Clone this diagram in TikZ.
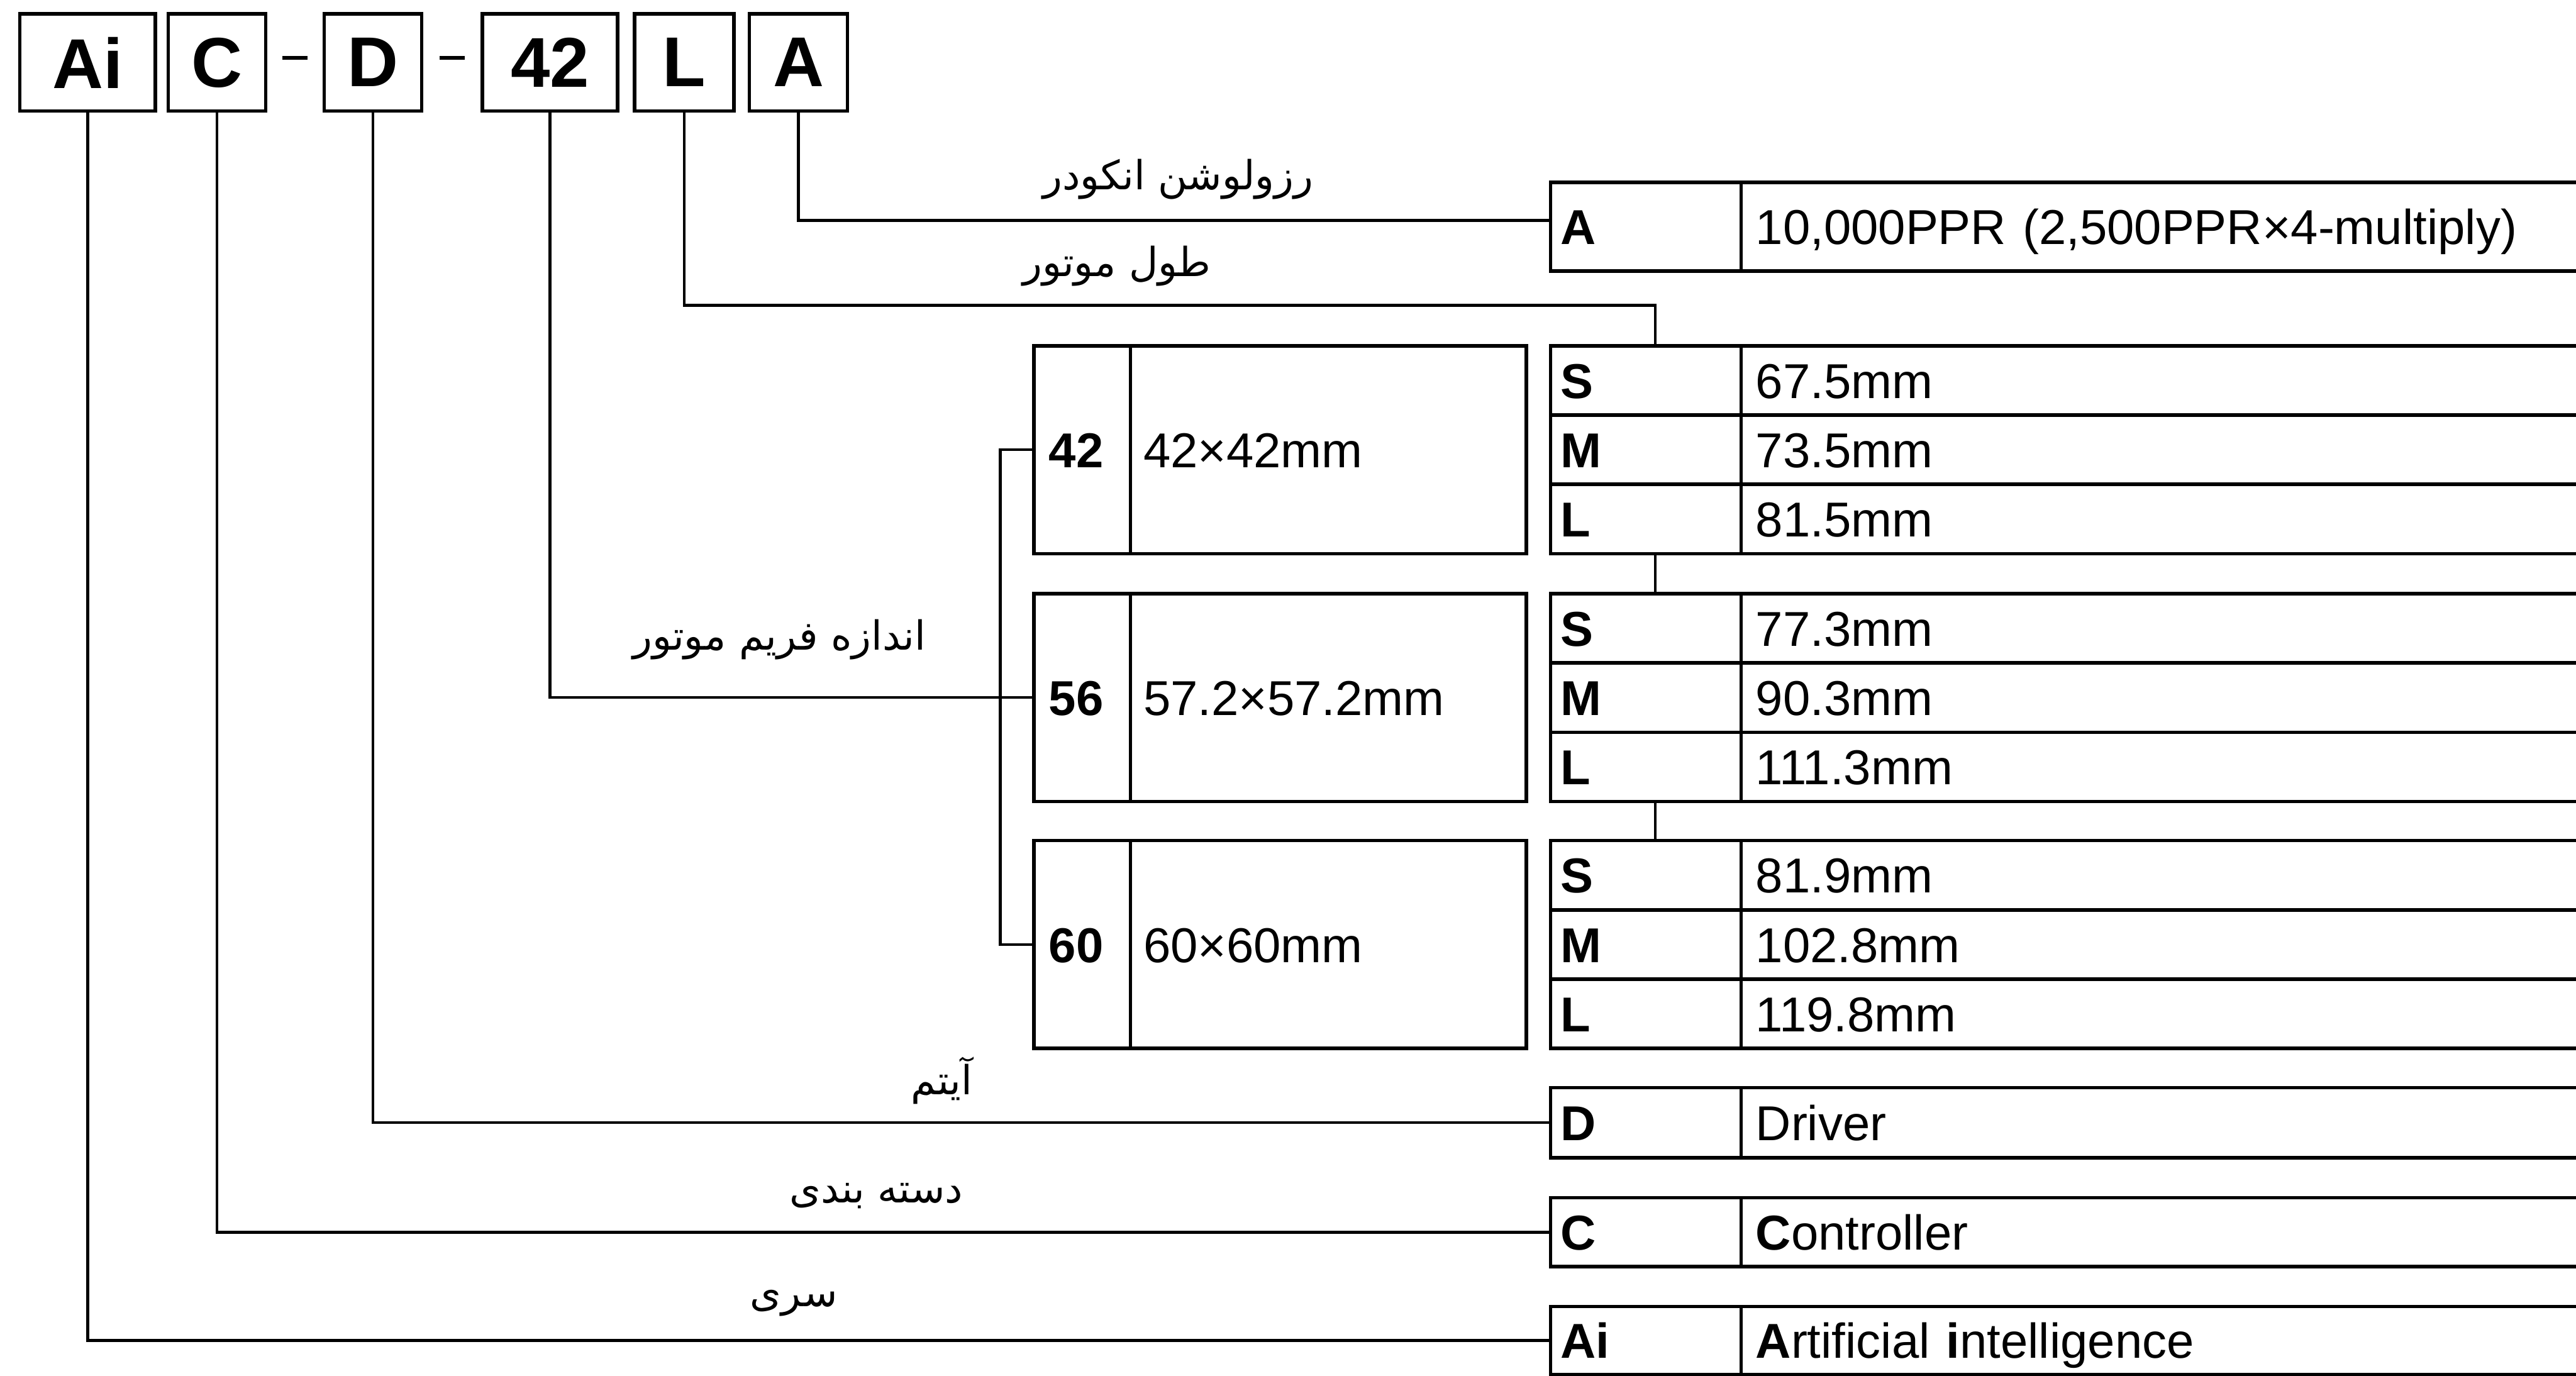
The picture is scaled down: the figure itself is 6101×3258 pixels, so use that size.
\documentclass[tikz,border=0pt]{standalone}
\usepackage{fontspec}
\setmainfont{Liberation Sans}
\newfontfamily\persianfont[Script=Arabic]{DejaVu Sans}
\TeXXeTstate=1
\usetikzlibrary{positioning, calc}
\newcommand{\tablefont}{\fontsize{33}{40}\selectfont}
\newcommand{\fatxt}[1]{\beginR #1\endR}
\tikzset{
  codebox/.style={rectangle, draw, line width=2.3pt, minimum height=2.3cm,
                  inner sep=0pt, outer sep=0pt,
                  font=\bfseries\fontsize{47.5}{56}\selectfont},
  keycell/.style={rectangle, draw, line width=2.3pt, inner xsep=0.24cm,
                  inner ysep=0pt, outer sep=0pt, text width=4.03cm,
                  minimum height=1.64cm, align=left, text height=0.84cm,
                  text depth=0pt, font=\tablefont\bfseries},
  valcell/.style={keycell, text width=19.7cm, inner xsep=0.35cm, font=\tablefont},
  framekey/.style={keycell, text width=1.58cm, inner xsep=0.35cm, minimum height=4.92cm},
  framedesc/.style={valcell, text width=8.75cm, inner xsep=0.31cm, minimum height=4.92cm},
  link/.style={line width=1.9pt},
  hyph/.style={line width=2.3pt},
  falabel/.style={inner sep=0pt, font=\persianfont\fontsize{27}{32}\selectfont}
}
\begin{document}
\begin{tikzpicture}[x=0.01cm, y=-0.01cm]
  \useasboundingbox (0,0) rectangle (6101,3258);
  \fill[white] (0,0) rectangle (6101,3258);
  \clip (0,0) rectangle (6101,3258);

  % Model code
  \node[codebox, minimum width=3.21cm, anchor=north west] (codeAi) at (47,33) {Ai};
  \node[codebox, minimum width=2.31cm, right=0.30cm of codeAi] (codeC) {C};
  \node[codebox, minimum width=2.31cm, right=1.38cm of codeC] (codeD) {D};
  \node[codebox, minimum width=3.20cm, right=1.44cm of codeD] (code42) {42};
  \node[codebox, minimum width=2.35cm, right=0.40cm of code42] (codeL) {L};
  \node[codebox, minimum width=2.32cm, right=0.37cm of codeL] (codeA) {A};
  \draw[hyph] ($(codeC.east)!0.5!(codeD.west)$) +(-30,-11) -- +(30,-11);
  \draw[hyph] ($(codeD.east)!0.5!(code42.west)$) +(-30,-11) -- +(30,-11);

  % Encoder resolution
  \node[keycell, minimum height=2.1cm, anchor=north west] (encA) at (3672,432) {A};
  \node[valcell, minimum height=2.1cm, right=0pt of encA] (encAval) {10,000PPR (2,500PPR×4-multiply)};

  % Motor length, 42 frame
  \node[keycell, anchor=north west] (lenS42) at (3672,819) {S};
  \node[keycell, below=0pt of lenS42] (lenM42) {M};
  \node[keycell, below=0pt of lenM42] (lenL42) {L};
  \node[valcell, right=0pt of lenS42] (valS42) {67.5mm};
  \node[valcell, right=0pt of lenM42] (valM42) {73.5mm};
  \node[valcell, right=0pt of lenL42] (valL42) {81.5mm};

  % Motor length, 56 frame
  \node[keycell, anchor=north west] (lenS56) at (3672,1406) {S};
  \node[keycell, below=0pt of lenS56] (lenM56) {M};
  \node[keycell, below=0pt of lenM56] (lenL56) {L};
  \node[valcell, right=0pt of lenS56] (valS56) {77.3mm};
  \node[valcell, right=0pt of lenM56] (valM56) {90.3mm};
  \node[valcell, right=0pt of lenL56] (valL56) {111.3mm};

  % Motor length, 60 frame
  \node[keycell, anchor=north west] (lenS60) at (3672,1991) {S};
  \node[keycell, below=0pt of lenS60] (lenM60) {M};
  \node[keycell, below=0pt of lenM60] (lenL60) {L};
  \node[valcell, right=0pt of lenS60] (valS60) {81.9mm};
  \node[valcell, right=0pt of lenM60] (valM60) {102.8mm};
  \node[valcell, right=0pt of lenL60] (valL60) {119.8mm};

  % Frame size
  \node[framekey, anchor=north west] (frame42) at (2449,819) {42};
  \node[framedesc, right=0pt of frame42] (size42) {42×42mm};
  \node[framekey, anchor=north west] (frame56) at (2449,1406) {56};
  \node[framedesc, right=0pt of frame56] (size56) {57.2×57.2mm};
  \node[framekey, anchor=north west] (frame60) at (2449,1991) {60};
  \node[framedesc, right=0pt of frame60] (size60) {60×60mm};

  % Item, category, series
  \node[keycell, minimum height=1.66cm, anchor=north west] (drvD) at (3672,2576) {D};
  \node[valcell, minimum height=1.66cm, right=0pt of drvD] (drvVal) {Driver};
  \node[keycell, minimum height=1.63cm, anchor=north west] (catC) at (3672,2837) {C};
  \node[valcell, minimum height=1.63cm, right=0pt of catC] (catVal) {\textbf{C}ontroller};
  \node[keycell, minimum height=1.61cm, anchor=north west] (serAi) at (3672,3094) {Ai};
  \node[valcell, minimum height=1.61cm, right=0pt of serAi] (serVal) {\textbf{A}rtificial \textbf{i}ntelligence};

  % Labels
  \node[falabel] (labEnc) at (2790,425) {\fatxt{رزولوشن انکودر}};
  \node[falabel] (labLen) at (2645,630) {\fatxt{طول موتور}};
  \node[falabel] (labFrame) at (1846,1515) {\fatxt{اندازه فریم موتور}};
  \node[falabel] (labItem) at (2230,2560) {\fatxt{آیتم}};
  \node[falabel] (labCat) at (2075,2833) {\fatxt{دسته بندی}};
  \node[falabel] (labSer) at (1880,3087) {\fatxt{سری}};

  % Links
  \coordinate (lenTurn) at (3920,723);
  \draw[link] (codeA.south) |- ([yshift=0.15cm]encA.west);
  \draw[link] (codeL.south) |- (lenTurn) -- (lenTurn |- lenS42.north);
  \draw[link] (lenL42.south -| lenTurn) -- (lenS56.north -| lenTurn);
  \draw[link] (lenL56.south -| lenTurn) -- (lenS60.north -| lenTurn);
  \draw[link] (code42.south) |- (frame56.west);
  \draw[link] (frame42.west) -- ++(-80,0) |- (frame60.west);
  \draw[link] (codeD.south) |- (drvD.west);
  \draw[link] (codeC.south) |- (catC.west);
  \draw[link] (codeAi.south) |- (serAi.west);
\end{tikzpicture}
\end{document}
